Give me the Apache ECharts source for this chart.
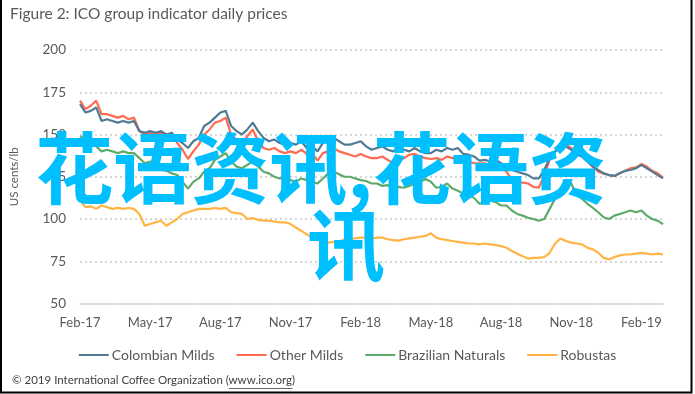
<!DOCTYPE html>
<html>
<head>
<meta charset="utf-8">
<script src="https://cdn.jsdelivr.net/npm/echarts@6/dist/echarts.min.js"></script>
<style>
html,body{margin:0;padding:0;background:#fff;}
#chart{width:695px;height:394px;}
</style>
</head>
<body>
<div id="chart"></div>
<script>
// ---- data (weekly readings, US cents/lb) ----
const startDate = '2017-02-01';
const weekCount = 109;
const xTickLabels = ['Feb-17','May-17','Aug-17','Nov-17','Feb-18','May-18','Aug-18','Nov-18','Feb-19'];
const yTicks = [50, 75, 100, 125, 150, 175, 200];
const seriesNames = ['Colombian Milds','Other Milds','Brazilian Naturals','Robustas'];

const colombianMilds = [168,163,164,166,158,159,158,157,158,157,158,152,151,152,151,152,150,151,147,145,
  142,146,148,155,157,160,163,164,155,152,150,153,157,152,148,146,147,145,144,145,
  144,146,142,143,140,145,146,148,146,144,144,145,146,143,141,142,143,141,140,142,
  141,140,142,140,139,139,141,140,142,141,142,138.5,138,137,134.5,135,134,135,133,131,
  129,128,127,126,124,124,129,136,140,142,143,141,138,137,134,131,129,127,126,125.5,
  127,128.5,129,130,132,130,128,126,124];
const otherMilds = [170,165,167,170,162,162,161,160,161,159,160,152,150,151,150,151,149,150,145,141,
  135.5,140,144,150,153,157,158,160,150,147,145,149,153,146,142,141,142,140,139,140,
  139,141,138.5,139,134.5,139,140,142,140,139,138,137,138.5,137,136,136,137,135,133,135,
  136,138,138.5,137,136,135.5,136,135,137,136,136,135,134,133,133,133,132,133,131,128,
  123,122,121.5,121,119,118.5,126,135,140,142,144,142,139,137,134,131,128,127,126,125.5,
  127,128.5,130,130.5,132.5,131,128.5,127,124.5];
const brazilianNaturals = [149,147,145,143,140,141,140,139,140,139,139,136,133,134,131,129,128.5,127,126,122,
  118,122,124,128,130,135,137,139,134,131,130,132,134,131,128,127,125,124,124,123,
  122,124,123,122,121,124,127,128,126.5,125,125,124,123,122.5,121,121,119.6,120,118.5,119,
  118.5,119.6,121,122,123.7,122,118.5,119,121,118,116.7,115,114,112.5,109,110,111,110,108,108,
  105,103,102,100.7,100,99,100,106,112,118,123,121,114,112,109,106.6,104,101,100,102,
  103,104,105,104,105,102,100,99,97];
const robustas = [111,107,107.5,106,108,107,106,106.6,106,106.5,106,103,96,97,98,99,96,98,100,103,
  104,105,106,106,106,106.5,106,106.6,104,103.5,103,100,100.5,99.5,99,99,98.5,98,98,97,
  95,93,91,89,87.5,87,86,86.5,86.5,88,88,88.6,89,89,88.5,89,89,88,87.5,87.2,
  88,88.5,89,89.5,90,91.5,89,88,87.5,87,86.5,86,85.5,85.5,85,85.5,85,84.5,84,83,
  81,79.5,78,76.6,77,77,77.5,80,85.5,88.5,87,86,85.5,85,83,82,80,77,76,77.5,
  78.5,79,79,79.5,80,79.5,79,79.5,79];

// weekly category dates
const categories = [];
{
  const t0 = Date.parse(startDate + 'T00:00:00Z');
  for (let i = 0; i < weekCount; i++) {
    categories.push(new Date(t0 + i * 7 * 864e5).toISOString().slice(0, 10));
  }
}
const MONTHS = ['Jan','Feb','Mar','Apr','May','Jun','Jul','Aug','Sep','Oct','Nov','Dec'];
function quarterLabel(dstr) {
  const d = new Date(dstr + 'T00:00:00Z');
  const y = d.getUTCFullYear(), m = d.getUTCMonth();
  const c1 = Date.UTC(y, m, 1), c2 = Date.UTC(y, m + 1, 1);
  const t = d.getTime();
  const best = (t - c1) <= (c2 - t) ? new Date(c1) : new Date(c2);
  if (Math.abs(best.getTime() - t) > 3.5 * 864e5) return null;
  const lab = MONTHS[best.getUTCMonth()] + '-' + String(best.getUTCFullYear()).slice(2);
  return xTickLabels.indexOf(lab) >= 0 ? lab : null;
}

const colors = ['#4F7B96', '#FF6A50', '#5DAA6A', '#FFB444'];
const seriesData = [colombianMilds, otherMilds, brazilianNaturals, robustas];
const FONT = 'Lato';
const TXT = '#595959';

// footer text + underline extent of the link part
const footerPre = '\u00A9 2019 International Coffee Organization (';
const footerLink = 'www.ico.org';
const footerText = footerPre + footerLink + ')';
const footerSize = 11.5;
const footerLeft = 12;
let ulX1 = 231, ulX2 = 292;
try {
  const ctx = document.createElement('canvas').getContext('2d');
  ctx.font = footerSize + 'px ' + FONT;
  ulX1 = footerLeft + ctx.measureText(footerPre).width;
  ulX2 = ulX1 + ctx.measureText(footerLink).width;
} catch (e) {}

const chart = echarts.init(document.getElementById('chart'), null, {renderer: 'canvas'});
chart.setOption({
  animation: false,
  color: colors,
  grid: {left: 79, right: 32, top: 50, bottom: 90.5, containLabel: false},
  legend: {
    data: seriesNames,
    left: 'center',
    top: 348,
    padding: 0,
    icon: 'rect',
    itemWidth: 30,
    itemHeight: 2,
    itemGap: 22,
    textStyle: {fontFamily: FONT, fontSize: 14, color: TXT, padding: [0, 0, 0, -2]}
  },
  xAxis: {
    type: 'category',
    data: categories,
    boundaryGap: false,
    axisLine: {show: true, lineStyle: {color: '#D9D9D9', width: 1.5}},
    axisTick: {show: false},
    splitLine: {show: false},
    axisLabel: {
      interval: function (idx, val) { return quarterLabel(val) !== null; },
      formatter: function (val) { return quarterLabel(val) || ''; },
      hideOverlap: false,
      margin: 13,
      fontFamily: FONT, fontSize: 13, color: TXT
    }
  },
  yAxis: {
    type: 'value',
    min: yTicks[0],
    max: yTicks[yTicks.length - 1],
    interval: yTicks[1] - yTicks[0],
    name: 'US cents/lb',
    nameLocation: 'middle',
    nameRotate: 90,
    nameGap: 60,
    nameTextStyle: {fontFamily: FONT, fontSize: 11.5, color: TXT},
    axisLine: {show: false},
    axisTick: {show: false},
    axisLabel: {margin: 14, fontFamily: FONT, fontSize: 13.5, color: TXT},
    splitLine: {
      show: true,
      lineStyle: {color: '#C8C8C8', type: [2, 3], width: 1.5}
    }
  },
  series: seriesNames.map(function (n, i) {
    return {
      name: n,
      type: 'line',
      data: seriesData[i],
      showSymbol: false,
      symbol: 'none',
      lineStyle: {width: 2.2, color: colors[i]},
      z: 3 + (3 - i)
    };
  }),
  graphic: [
    {
      type: 'text', left: 10, top: 6,
      style: {text: 'Figure 2: ICO group indicator daily prices', fontFamily: FONT, fontSize: 15.5, fill: TXT}
    },
    {
      type: 'text', left: footerLeft, top: 374,
      style: {text: footerText, fontFamily: FONT, fontSize: footerSize, fill: '#404040'}
    },
    {
      type: 'line', z: 10,
      shape: {x1: ulX1, y1: 388.5, x2: ulX2, y2: 388.5},
      style: {stroke: '#404040', lineWidth: 0.8}
    },
    {
      type: 'polyline', z: 10,
      shape: {points: [[1, 0], [1, 392.5], [691.5, 392.5], [691.5, 0]]},
      style: {stroke: '#000', lineWidth: 2, fill: null}
    },
    {
      type: 'text', z: 100, x: 321, y: 168,
      style: {text: '花语资讯,花语资', fontFamily: 'Noto Sans CJK SC', fontWeight: 'bold', fontSize: 78,
        fill: '#00BFFF', align: 'center', verticalAlign: 'middle'}
    },
    {
      type: 'text', z: 100, x: 346, y: 245,
      style: {text: '讯', fontFamily: 'Noto Sans CJK SC', fontWeight: 'bold', fontSize: 78,
        fill: '#00BFFF', align: 'center', verticalAlign: 'middle'}
    }
  ]
});
</script>
</body>
</html>
